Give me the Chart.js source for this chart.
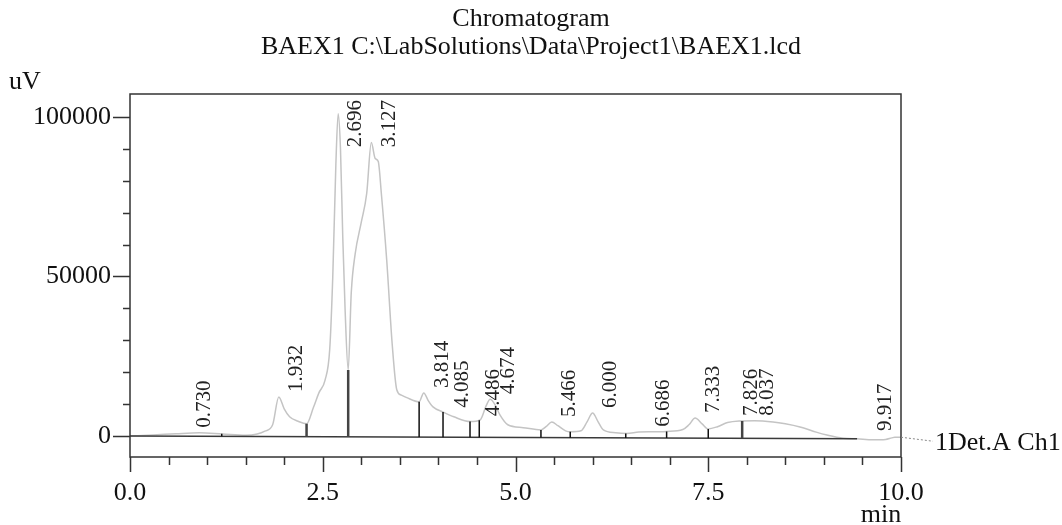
<!DOCTYPE html>
<html>
<head>
<meta charset="utf-8">
<title>Chromatogram</title>
<script src="https://cdn.jsdelivr.net/npm/chart.js@4.4.1/dist/chart.umd.min.js"></script>
<style>
    html, body { margin: 0; padding: 0; background: #fff; }
    #wrap { width: 1062px; height: 525px; position: relative; }
</style>
</head>
<body>
<div id="wrap"><canvas id="chromChart"></canvas></div>
<script>
// Chromatogram data
const times = [0.00, 0.30, 0.60, 0.90, 1.20, 1.50, 1.65, 1.75, 1.85, 1.93, 2.00, 2.07, 2.18, 2.29,
    2.38, 2.45, 2.53, 2.59, 2.63, 2.67, 2.70, 2.73, 2.76, 2.79, 2.83, 2.87, 2.92, 3.00, 3.07, 3.13,
    3.18, 3.22, 3.26, 3.33, 3.40, 3.46, 3.52, 3.59, 3.75, 3.81, 3.87, 3.93, 4.06, 4.20, 4.41, 4.54,
    4.62, 4.67, 4.73, 4.80, 4.90, 5.10, 5.33, 5.40, 5.47, 5.55, 5.65, 5.71, 5.85, 5.93, 6.00, 6.07,
    6.14, 6.30, 6.44, 6.60, 6.80, 6.96, 7.17, 7.25, 7.33, 7.42, 7.50, 7.62, 7.75, 7.90, 8.10, 8.34,
    8.50, 8.69, 8.90, 9.04, 9.25, 9.43, 9.64, 9.80, 9.88, 9.92, 10.00];
const signal = [0, 300, 700, 1000, 600, 200, 600, 1500, 3500, 12200, 8500, 6000, 4600, 3800,
    9000, 13500, 17500, 27000, 50000, 85000, 101000, 90000, 62000, 39500, 20700, 45000, 57000, 67000, 76000, 92000,
    87000, 86000, 76000, 55000, 29000, 14500, 12800, 12000, 10700, 13500, 11000, 9100, 7500, 6000, 4500, 5000,
    9500, 11500, 10000, 6500, 3500, 2600, 1900, 3000, 4400, 3200, 1600, 1300, 1600, 4500, 7200, 4500,
    1900, 1000, 800, 1200, 1300, 1400, 2000, 3500, 5600, 3800, 2200, 2900, 4200, 4700, 4800, 4400,
    3800, 2800, 1200, 300, -700, -900, -1200, -1100, -600, -400, -400];

// Integration baseline
const baseTimes = [0.00, 9.43];
const baseValues = [0, -900];

// Peak boundaries (drop lines)
const dropTimes = [1.19, 2.29, 2.83, 3.75, 4.06, 4.41, 4.53, 5.33, 5.71, 6.43, 6.96, 7.50, 7.94];
const dropTops = [700, 3800, 20700, 10700, 7500, 4500, 4900, 1900, 1300, 800, 1400, 2200, 4700];
const dropWide = [false, true, true, false, false, false, false, false, false, false, false, false, true];

// Peak labels
const peakLabels = ['0.730', '1.932', '2.696', '3.127', '3.814', '4.085', '4.486', '4.674',
    '5.466', '6.000', '6.686', '7.333', '7.826', '8.037', '9.917'];
const peakTimes = peakLabels.map(Number);
const peakHeights = [1000, 12200, 101000, 92000, 13500, 7300, 4600, 11500,
    4400, 7200, 1300, 5600, 4700, 4800, 0];

// Axes
const xMajorTicks = [0, 2.5, 5, 7.5, 10];
const xMinorStep = 0.5;
const yMajorTicks = [0, 50000, 100000];
const yMinorStep = 10000;
const yRange = [-6600, 107200];

const SERIF = '"Liberation Serif", "Times New Roman", serif';

function baselineAt(t) {
    const t0 = baseTimes[0], t1 = baseTimes[1];
    return baseValues[0] + (baseValues[1] - baseValues[0]) * (t - t0) / (t1 - t0);
}

function dropData(wide) {
    const pts = [];
    dropTimes.forEach((t, i) => {
        if (dropWide[i] !== wide) return;
        pts.push({ x: t, y: baselineAt(t) });
        pts.push({ x: t, y: dropTops[i] });
        pts.push({ x: t, y: null });
    });
    return pts;
}

const framePlugin = {
    id: 'frame',
    afterDraw(chart) {
        const ctx = chart.ctx;
        const area = chart.chartArea;
        const xs = chart.scales.x;
        const ys = chart.scales.y;
        ctx.save();

        // ticks
        ctx.strokeStyle = '#333';
        ctx.lineWidth = 1.5;
        ctx.beginPath();
        for (let v = 0; v <= 10 + 1e-9; v += xMinorStep) {
            const px = Math.round(xs.getPixelForValue(v)) + 0.5;
            const len = xMajorTicks.some(m => Math.abs(m - v) < 1e-6) ? 15 : 8;
            ctx.moveTo(px, area.bottom);
            ctx.lineTo(px, area.bottom + len);
        }
        for (let v = 0; v <= yMajorTicks[yMajorTicks.length - 1]; v += yMinorStep) {
            const py = Math.round(ys.getPixelForValue(v)) + 0.5;
            const len = yMajorTicks.includes(v) ? 17 : 7;
            ctx.moveTo(area.left, py);
            ctx.lineTo(area.left - len, py);
        }
        ctx.stroke();

        // frame
        ctx.strokeStyle = '#333';
        ctx.lineWidth = 1.5;
        ctx.strokeRect(area.left, area.top, area.right - area.left, area.bottom - area.top);

        // peak labels
        ctx.fillStyle = '#222';
        ctx.font = '21px ' + SERIF;
        ctx.textAlign = 'left';
        ctx.textBaseline = 'middle';
        peakLabels.forEach((lab, i) => {
            let px = xs.getPixelForValue(peakTimes[i]) + 18;
            px = Math.min(px, area.right - 16);
            const w = ctx.measureText(lab).width;
            let py = ys.getPixelForValue(peakHeights[i]) - 5;
            py = Math.max(py, area.top + 6 + w);
            ctx.save();
            ctx.translate(px, py);
            ctx.rotate(-Math.PI / 2);
            ctx.fillText(lab, 0, 0);
            ctx.restore();
        });

        // channel tag
        const endY = ys.getPixelForValue(signal[signal.length - 1]);
        ctx.strokeStyle = '#888';
        ctx.lineWidth = 1;
        ctx.setLineDash([2, 2]);
        ctx.beginPath();
        ctx.moveTo(area.right, endY);
        ctx.lineTo(area.right + 32, endY + 4);
        ctx.stroke();
        ctx.setLineDash([]);

        ctx.fillStyle = '#111';
        ctx.font = '26px ' + SERIF;
        ctx.textAlign = 'left';
        ctx.textBaseline = 'alphabetic';
        ctx.fillText('1Det.A Ch1', area.right + 34, endY + 13);

        // units
        ctx.fillText('uV', 9, 89);
        ctx.textAlign = 'center';
        ctx.fillText('min', area.right - 20, 522);

        // title
        ctx.font = '26px ' + SERIF;
        ctx.fillText('Chromatogram', chart.width / 2, 26);
        ctx.fillText('BAEX1 C:\\LabSolutions\\Data\\Project1\\BAEX1.lcd', chart.width / 2, 54);

        ctx.restore();
    }
};

const ctx = document.getElementById('chromChart').getContext('2d');
const chromChart = new Chart(ctx, {
    type: 'line',
    data: {
        datasets: [
            {
                label: 'Baseline',
                data: baseTimes.map((t, i) => ({ x: t, y: baseValues[i] })),
                borderColor: '#3a3a3a',
                borderWidth: 1.5,
                pointRadius: 0,
                order: 2
            },
            {
                label: 'Drops',
                data: dropData(false),
                borderColor: '#111',
                borderWidth: 1.5,
                pointRadius: 0,
                spanGaps: false,
                order: 1
            },
            {
                label: 'Drops wide',
                data: dropData(true),
                borderColor: '#444',
                borderWidth: 2.5,
                pointRadius: 0,
                spanGaps: false,
                order: 1
            },
            {
                label: '1Det.A Ch1',
                data: times.map((t, i) => ({ x: t, y: signal[i] })),
                borderColor: '#c4c4c4',
                borderWidth: 1.5,
                pointRadius: 0,
                cubicInterpolationMode: 'monotone',
                order: 3
            }
        ]
    },
    options: {
        responsive: true,
        maintainAspectRatio: false,
        animation: false,
        layout: { padding: { top: 94, right: 161, bottom: 0, left: 0 } },
        plugins: {
            legend: { display: false },
            title: { display: false },
            tooltip: { enabled: false }
        },
        scales: {
            x: {
                type: 'linear',
                min: 0,
                max: 10,
                grid: { display: false },
                border: { display: false },
                afterFit: (scale) => { scale.height = 68; },
                afterBuildTicks: (scale) => {
                    scale.ticks = xMajorTicks.map(v => ({ value: v }));
                },
                ticks: {
                    color: '#111',
                    font: { family: SERIF, size: 26 },
                    padding: 13,
                    maxRotation: 0,
                    autoSkip: false,
                    callback: (v) => v.toFixed(1)
                }
            },
            y: {
                type: 'linear',
                min: yRange[0],
                max: yRange[1],
                grid: { display: false },
                border: { display: false },
                afterFit: (scale) => { scale.width = 130; },
                afterBuildTicks: (scale) => {
                    scale.ticks = yMajorTicks.map(v => ({ value: v }));
                },
                ticks: {
                    color: '#111',
                    font: { family: SERIF, size: 26 },
                    padding: 11,
                    callback: (v) => String(v)
                }
            }
        }
    },
    plugins: [framePlugin]
});
</script>
</body>
</html>
